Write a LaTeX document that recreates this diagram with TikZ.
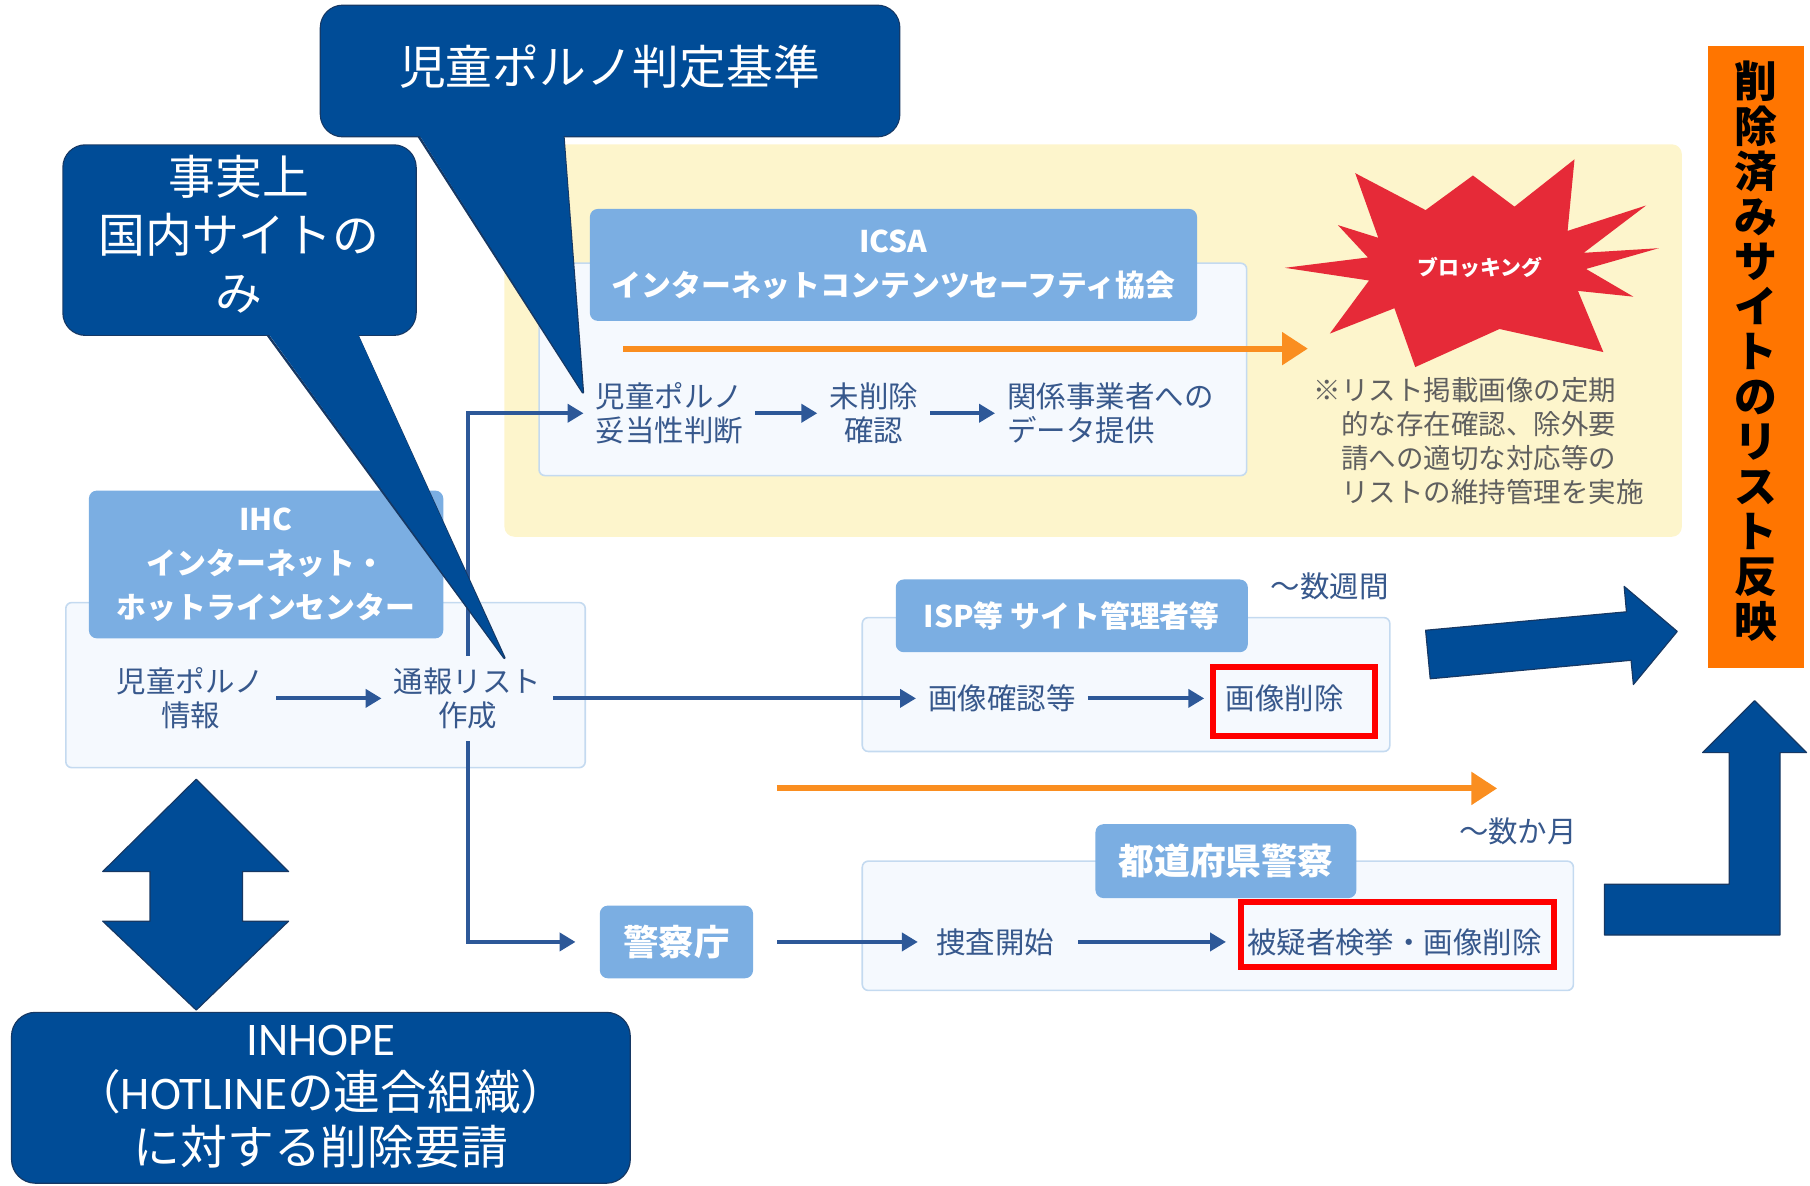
\documentclass[tikz,border=0pt]{standalone}
\usepackage{fontspec}
\setmainfont{Noto Sans CJK JP}
\newfontfamily\calfont{Carlito}
\usetikzlibrary{arrows.meta}
\usetikzlibrary{fit}
\usetikzlibrary{calc}
\definecolor{calloutblue}{RGB}{0,76,151}
\definecolor{calloutedge}{RGB}{22,56,100}
\definecolor{headblue}{RGB}{123,174,226}
\definecolor{boxfill}{RGB}{245,249,254}
\definecolor{boxedge}{RGB}{196,218,240}
\definecolor{textblue}{RGB}{55,88,140}
\definecolor{arrowblue}{RGB}{45,88,152}
\definecolor{lineorange}{RGB}{250,142,32}
\definecolor{paleyellow}{RGB}{253,245,204}
\definecolor{barorange}{RGB}{255,117,0}
\definecolor{starred}{RGB}{230,42,56}
\definecolor{notegray}{RGB}{95,95,95}
\definecolor{markred}{RGB}{255,0,0}
\tikzstyle{container} = [rectangle, draw=boxedge, fill=boxfill, line width=0.8pt,
    rounded corners=3pt, inner sep=0pt]
\tikzstyle{header} = [rectangle, fill=headblue, rounded corners=4pt, inner sep=0pt]
\tikzstyle{headtext} = [text=white, font=\bfseries\fontsize{15}{22}\selectfont, align=center]
\tikzstyle{steptext} = [text=textblue, font=\fontsize{14.8}{16.8}\selectfont,
    align=center, inner sep=6pt]
\tikzstyle{redmark} = [rectangle, draw=markred, line width=3pt, inner sep=0pt]
\tikzstyle{callouttext} = [text=white, font=\fontsize{23.5}{29}\selectfont, align=center]
\tikzstyle{bigarrow} = [fill=calloutblue, draw=calloutedge, line width=0.6pt, line join=round]
\tikzstyle{line} = [draw=arrowblue, line width=2pt, -{Triangle[length=8pt,width=9pt]}]
\tikzstyle{timeline} = [draw=lineorange, line width=3pt, -{Triangle[length=13pt,width=16pt]}]
\begin{document}
\begin{tikzpicture}[x=0.58pt, y=-0.58pt]
    \useasboundingbox (0,0) rectangle (1568,1027);
    % Draw yellow area around ICSA
    \fill[paleyellow, rounded corners=5pt] (437,125) rectangle (1457,465);
    % Place boxes
    \node [container, fit={(467,228) (1080,412)}] (icsabox) {};
    \node [header, fit={(511,181) (1037,278)}] (icsahead) {};
    \node [headtext] (icsatitle) at (icsahead.center) {ICSA\\インターネットコンテンツセーフティ協会};
    \node [container, fit={(57,522) (507,665)}] (ihcbox) {};
    \node [header, fit={(77,425) (384,553)}] (ihchead) {};
    \node [headtext] (ihctitle) at (ihchead.center) {IHC\\インターネット・\\ホットラインセンター};
    \node [container, fit={(747,535) (1204,651)}] (ispbox) {};
    \node [header, fit={(776,502) (1081,565)}] (isphead) {};
    \node [headtext] (isptitle) at (isphead.center) {ISP等 サイト管理者等};
    \node [container, fit={(747,746) (1363,858)}] (polbox) {};
    \node [header, fit={(949,714) (1175,778)}] (polhead) {};
    \node [headtext, font=\bfseries\fontsize{18}{22}\selectfont] (poltitle) at (polhead.center) {都道府県警察};
    % Place nodes
    \node [steptext] (pornjudge) at (580,358) {児童ポルノ\\妥当性判断};
    \node [steptext] (unchecked) at (757,358) {未削除\\確認};
    \node [steptext, align=left] (dataprov) at (962,358) {関係事業者への\\データ提供};
    \node [steptext] (porninfo) at (165,605) {児童ポルノ\\情報};
    \node [steptext] (listmake) at (405,605) {通報リスト\\作成};
    \node [steptext] (imgcheck) at (868,605) {画像確認等};
    \node [steptext] (imgdel) at (1113,605) {画像削除};
    \node [redmark, fit={(1051,578) (1191,638)}] (delmark) {};
    \node [header, minimum width=77pt, minimum height=36.5pt, text=white,
        font=\bfseries\fontsize{17.8}{20}\selectfont] (npa) at (586,816) {警察庁};
    \node [steptext] (probe) at (862,816) {捜査開始};
    \node [steptext] (arrest) at (1208,816) {被疑者検挙・画像削除};
    \node [redmark, fit={(1075,781) (1346,838)}] (arrestmark) {};
    \node [steptext] (weeks) at (1152,508) {〜数週間};
    \node [steptext] (months) at (1315,720) {〜数か月};
    \node [text=notegray, font=\fontsize{13.8}{17}\selectfont, align=left] (note) at (1281,382)
        {※リスト掲載画像の定期\\\hspace{1em}的な存在確認、除外要\\\hspace{1em}請への適切な対応等の\\\hspace{1em}リストの維持管理を実施};
    % Draw blocking star
    \fill[starred] (1174,150) -- (1235,182) -- (1276,152) -- (1312,179) -- (1364,138)
        -- (1358,200) -- (1426,178) -- (1372,219) -- (1437,215) -- (1374,233)
        -- (1415,257) -- (1367,252) -- (1389,305) -- (1299,285) -- (1226,318)
        -- (1208,267) -- (1152,289) -- (1186,243) -- (1113,232) -- (1185,223)
        -- (1159,195) -- (1194,206) -- cycle;
    \node [text=white, font=\bfseries\fontsize{10.5}{12}\selectfont] (block) at (1282,232) {ブロッキング};
    % Draw edges
    \path [line] (porninfo) -- (listmake);
    \path [line] (listmake) -- (imgcheck);
    \path [line, shorten >=3pt] (imgcheck.east) -- (imgcheck.east -| delmark.west);
    \path [line] (pornjudge) -- (unchecked);
    \path [line] (unchecked) -- (dataprov);
    \path [line] (listmake.north) |- (pornjudge.west);
    \path [line, shorten >=12pt] (listmake.south) |- (npa.west);
    \path [line, shorten <=12pt, shorten >=3pt] (npa) -- (probe);
    \path [line, shorten <=6pt, shorten >=6pt] (probe.east) -- (probe.east -| arrestmark.west);
    \coordinate (icsastart) at (540,302);
    \coordinate (icsaend) at (1133,302);
    \coordinate (polstart) at (673,683);
    \coordinate (polend) at (1297,683);
    \path [timeline] (icsastart) -- (icsaend);
    \path [timeline] (polstart) -- (polend);
    % Draw callouts: outline first, then fill
    \draw[calloutedge, line width=1.2pt, line join=round, rounded corners=11pt] (278,5) rectangle (779,118);
    \draw[calloutedge, line width=1.2pt, line join=round] (362,117) -- (505,340) -- (488,117);
    \draw[calloutedge, line width=1.2pt, line join=round, rounded corners=11pt] (55,126) rectangle (360,290);
    \draw[calloutedge, line width=1.2pt, line join=round] (231,289) -- (437,570) -- (309,289);
    \fill[calloutblue, rounded corners=11pt] (278,5) rectangle (779,118);
    \fill[calloutblue] (362,115) -- (505,340) -- (488,115) -- cycle;
    \fill[calloutblue, rounded corners=11pt] (55,126) rectangle (360,290);
    \fill[calloutblue] (231,287) -- (437,570) -- (309,287) -- cycle;
    \node [callouttext] (critA) at (528,58) {児童ポルノ判定基準};
    \node [callouttext] (critB) at (207,203) {事実上\\国内サイトの\\み};
    % Draw INHOPE box
    \draw[bigarrow] (170,675) -- (250,755) -- (210,755) -- (210,798) -- (250,798) -- (170,875)
        -- (89,798) -- (130,798) -- (130,755) -- (89,755) -- cycle;
    \node [fill=calloutblue, draw=calloutedge, line width=0.6pt, rounded corners=12pt,
        inner sep=0pt, fit={(10,877) (546,1025)}] (inhopebox) {};
    \node [callouttext, font=\fontsize{23.5}{27.5}\selectfont] (inhope) at (278,950)
        {{\calfont INHOPE}\\（{\calfont HOTLINE}の連合組織）\\に対する削除要請};
    % Draw big arrows to list
    \draw[bigarrow] (1235,546) -- (1409,530) -- (1407,508) -- (1453,547) -- (1415,593)
        -- (1413,572) -- (1239,588) -- cycle;
    \draw[bigarrow] (1390,766) -- (1498,766) -- (1498,652) -- (1475,652) -- (1520,607)
        -- (1565,652) -- (1542,652) -- (1542,810) -- (1390,810) -- cycle;
    \node [fill=barorange, inner sep=0pt, fit={(1480,40) (1563,579)}] (barbox) {};
    \node [font=\bfseries\fontsize{21.5}{22.6}\selectfont, align=center] (bartext) at (1521,304)
        {削\\除\\済\\み\\サ\\イ\\ト\\の\\リ\\ス\\ト\\反\\映};
\end{tikzpicture}
\end{document}
